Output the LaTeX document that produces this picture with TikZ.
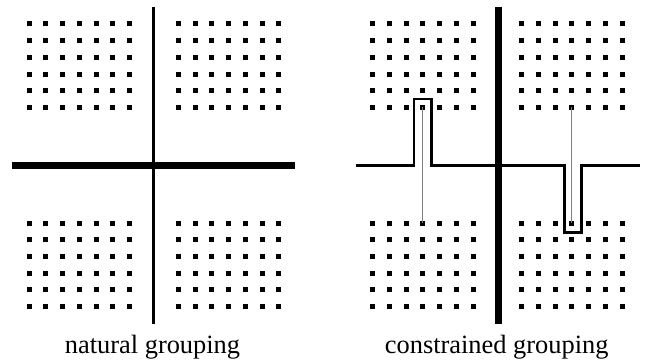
\documentclass[tikz,border=0pt]{standalone}
\usepackage{fontspec}
\setmainfont{Liberation Serif}
\begin{document}
\begin{tikzpicture}[x=1pt,y=-1pt,
  dot/.style={fill=black,minimum size=5pt,inner sep=0pt,outer sep=0pt,draw=none,rectangle},
  thickrule/.style={line width=6.7pt},
  midrule/.style={line width=3.3pt},
  thinrule/.style={line width=2.8pt,line join=miter},
  link/.style={draw=black!50,line width=1pt},
  caption/.style={font=\fontsize{26.4pt}{30pt}\selectfont,anchor=base,inner sep=0pt}]
\useasboundingbox (0,0) rectangle (647,363);
% dot grids
\foreach \gx/\gy/\nm in {29/24/la,178.3/24/lb,29/223.3/lc,178.3/223.3/ld,372.7/24/ra,521.7/24/rb,372.7/223.3/rc,521.7/223.3/rd}{
  \foreach \i in {0,...,6}{
    \foreach \j in {0,...,5}{
      \node[dot] (\nm-\i-\j) at ({\gx+16.75*\i},{\gy+16.67*\j}) {};
    }
  }
}
% left panel
\coordinate (lvt) at (153.3,7.3);
\coordinate (lvb) at (153.3,324);
\coordinate (lhl) at (11.7,165.7);
\coordinate (lhr) at (295,165.7);
\draw[midrule] (lvt) -- (lvb);
\draw[thickrule] (lhl) -- (lhr);
\node[caption] (capl) at (152.5,353) {natural grouping};
% right panel
\coordinate (rvt) at (498.3,7.3);
\coordinate (rvb) at (498.3,324);
\draw[link] (ra-3-5.center) -- (rc-3-0.center);
\draw[link] (rb-3-5.center) -- (rd-3-0.center);
\coordinate (rhl) at (356,165.7);
\coordinate (rhr) at (640,165.7);
\draw[thinrule] (rhl) -- (414,165.7) -- (414,99) -- (431.5,99) -- (431.5,165.7)
  -- (564.5,165.7) -- (564.5,232.7) -- (581.2,232.7) -- (581.2,165.7) -- (rhr);
\draw[thickrule] (rvt) -- (rvb);
\node[caption] (capr) at (496.7,353) {constrained grouping};
\end{tikzpicture}
\end{document}
